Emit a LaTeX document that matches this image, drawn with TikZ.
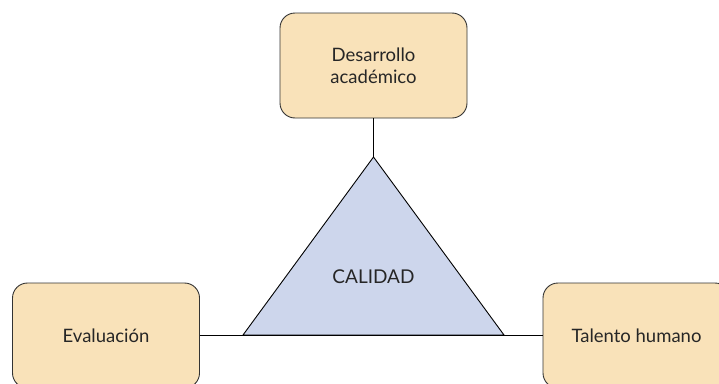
\documentclass[tikz,border=0pt]{standalone}
\usepackage{fontspec}
\setmainfont{Lato}
\definecolor{boxfill}{HTML}{F9E2B9}
\definecolor{trifill}{HTML}{CDD6EC}
\definecolor{edge}{HTML}{333333}
\begin{document}
\begin{tikzpicture}[x=1pt,y=-1pt,
  box/.style={draw=edge,fill=boxfill,line width=0.9pt,rounded corners=15pt,minimum width=187pt,minimum height=105pt,align=center,font=\fontsize{18.5}{22}\selectfont,text=black!85},
  conn/.style={draw=black,line width=0.9pt}]
\useasboundingbox (0,0) rectangle (719,383);
\clip (0,0) rectangle (719,383);
\node[box] (dev) at (373.5,65.5) {Desarrollo\\académico};
\node[box] (eval) at (106,335.5) {Evaluación};
\node[box] (tal) at (636.5,335.5) {Talento humano};
\coordinate (apex) at (373.5,157);
\coordinate (bl) at (243,335);
\coordinate (br) at (504,335);
\draw[draw=black,line width=0.9pt,fill=trifill,line join=miter] (apex) -- (bl) -- (br) -- cycle;
\node[font=\fontsize{19}{22}\selectfont,text=black!85] (cal) at (373.5,277) {CALIDAD};
\draw[conn] (dev.south) -- (apex);
\draw[conn] (eval.east) -- (tal.west);
\end{tikzpicture}
\end{document}
